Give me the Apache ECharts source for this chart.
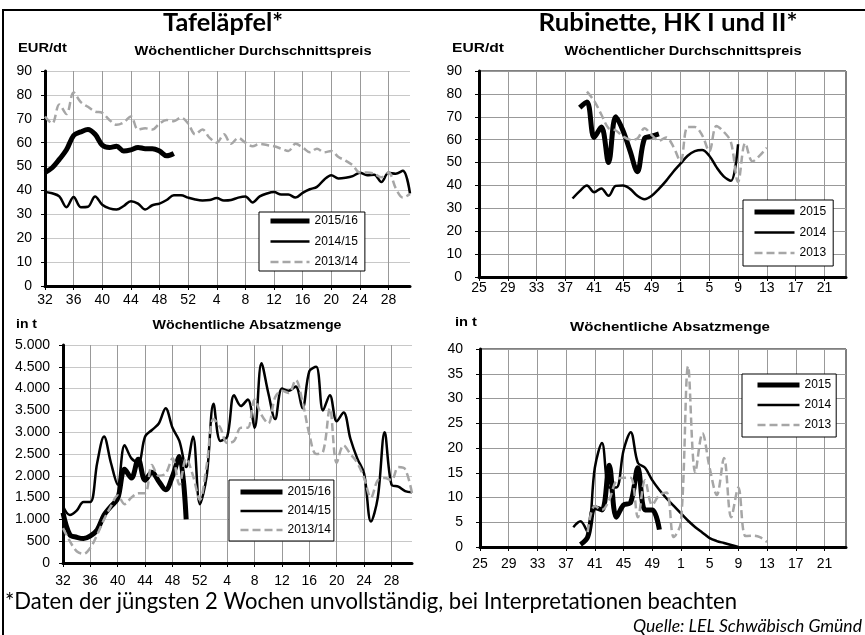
<!DOCTYPE html>
<html>
<head>
<meta charset="utf-8">
<script src="https://cdn.jsdelivr.net/npm/echarts@6/dist/echarts.min.js"></script>
<style>
  html, body { margin: 0; padding: 0; background: #fff; }
  #chart { width: 865px; height: 635px; }
</style>
</head>
<body>
<div id="chart"></div>
<script>
// Kalenderwochen
const weeksApfel = [32, 33, 34, 35, 36, 37, 38, 39, 40, 41, 42, 43, 44, 45, 46, 47, 48, 49, 50, 51, 52,
  1, 2, 3, 4, 5, 6, 7, 8, 9, 10, 11, 12, 13, 14, 15, 16, 17, 18, 19, 20, 21, 22, 23, 24, 25, 26, 27, 28, 29, 30, 31];
const weeksRubinette = [25, 26, 27, 28, 29, 30, 31, 32, 33, 34, 35, 36, 37, 38, 39, 40, 41, 42, 43, 44, 45, 46, 47, 48, 49, 50, 51, 52,
  1, 2, 3, 4, 5, 6, 7, 8, 9, 10, 11, 12, 13, 14, 15, 16, 17, 18, 19, 20, 21, 22, 23, 24];

// Tafeläpfel: Preis EUR/dt
const apfelPreis1516 = [47.5, 49.5, 53, 57, 63, 64.5, 65.5, 63.5, 59, 58, 58.5, 56.5, 57, 58, 57.5, 57.5, 56.5, 54.5, 55.5];
const apfelPreis1415 = [39.4, 38.8, 37.5, 33, 37.3, 33, 33.2, 37.5, 34, 32.5,
  32, 33.5, 35.5, 34.5, 32, 33.8, 34.5, 36, 38, 38,
  37, 36.2, 35.8, 36, 36.8, 35.8, 36, 37, 37.5, 35,
  37.5, 38.7, 39.3, 38.3, 38.3, 37, 39, 40.5, 41.5, 44.5,
  46.4, 45, 45.3, 46, 47.4, 46.4, 46.6, 43.5, 47.4, 47,
  48.2, 38.7];
const apfelPreis1314 = [71, 68, 76, 72, 81, 77, 75, 73, 72.5, 69.5,
  67.5, 68.5, 71, 65.5, 66, 65.5, 68, 69.5, 69, 70.5,
  68, 63.5, 65.5, 62, 60, 63.5, 59.5, 62, 60, 58.5,
  59.5, 59, 58.5, 57.5, 56.5, 59.5, 58, 56, 57.5, 56,
  56.5, 54, 52.5, 50.5, 47.5, 47.5, 47, 45.5, 47.5, 41,
  37, 38.5];

// Tafeläpfel: Absatz in t
const apfelMenge1516 = [1150, 650, 590, 560, 620, 760, 1100, 1300, 1480, 2150, 1950, 2380, 1900, 2080, 1870, 1680, 1990, 2440, 1000];
const apfelMenge1415 = [1300, 1100, 1200, 1400, 1400, 2300, 2900, 2300, 1800, 2700,
  2400, 2300, 2900, 3050, 3200, 3550, 3100, 2800, 2200, 2900,
  1350, 2000, 3650, 2800, 2900, 3850, 3600, 3750, 3100, 4580,
  3900, 3300, 4000, 3950, 4050, 3550, 4400, 4500, 3500, 3850,
  3250, 3450, 2850, 2400, 2050, 950, 1500, 3000, 1800, 1750,
  1650, 1620];
const apfelMenge1314 = [800, 500, 270, 210, 350, 650, 1000, 1300, 1550, 1350,
  1500, 1600, 1600, 2250, 2000, 2050, 2400, 1800, 2400, 2000,
  1450, 2250, 3300, 3100, 2750, 2800, 3100, 3100, 3750, 3400,
  3200, 3800, 3950, 3900, 4200, 3700, 2950, 2500, 2550, 3550,
  2300, 2700, 2500, 2300, 1950, 1500, 1900, 1950, 1900, 2200,
  2150, 1600];

// Rubinette: Preis EUR/dt
const rubPreis2015 = [null, null, null, null, null, null, null, null, null, null, null, null, null, null,
  74, 76.5, 61, 65.5, 50, 70, 64, 55, 46, 60.5, 61.5, 62.5];
const rubPreis2014 = [null, null, null, null, null, null, null, null, null, null, null, null, null,
  34.3, 37.5, 40, 37, 38.7, 35.5, 39.8, 40, 38.5, 35.5, 34, 35.5, 38.5, 42, 46,
  49.5, 53, 55, 55.5, 53, 48, 44, 42, 58];
const rubPreis2013 = [null, null, null, null, null, null, null, null, null, null, null, null, null, null, null,
  81, 77, 71, 65, 64, 61.5, 60, 60.5, 65, 62, 59.5, 61, 57,
  50.5, 65.5, 65.5, 62, 55, 66, 63.5, 59, 41.5, 58.5, 50.5, 53, 56.5];

// Rubinette: Absatz in t
const rubMenge2015 = [null, null, null, null, null, null, null, null, null, null, null, null, null, null,
  0.5, 2, 8, 7.5, 16.5, 6, 8.5, 9, 16, 7.5, 7.5, 3.5];
const rubMenge2014 = [null, null, null, null, null, null, null, null, null, null, null, null, null,
  4, 5.2, 3, 16, 21, 12, 12, 19.5, 23.2, 17, 16, 13.5, 11.5, 9.8, 8.3,
  6.8, 5.3, 4, 2.9, 1.8, 1.2, 0.8, 0.4, 0];
const rubMenge2013 = [null, null, null, null, null, null, null, null, null, null, null, null, null, null, null,
  3, 8.3, 7.5, 9.5, 13.5, 14, 14, 6, 13.5, 8.5, 10.5, 11, 2,
  5, 36.5, 15, 23, 16, 10.5, 18, 6, 12, 2.2, 2.3, 2, 1];

const FONT = "'Liberation Sans', Arial, sans-serif";
const chart = echarts.init(document.getElementById("chart"), null, { renderer: "canvas" });

// Breite eines Textes auf Vorlage trimmen
const measureCtx = document.createElement("canvas").getContext("2d");
function fitScale(text, font, width){
  measureCtx.font = font;
  return width / measureCtx.measureText(text).width;
}
function label(text, x, y, font, width, align){
  return {
    type: "text", x, y,
    scaleX: width ? fitScale(text, font, width) : 1,
    style: { text, font, fill: "#000", textAlign: align, textVerticalAlign: "middle", align, verticalAlign: "middle" }
  };
}

function dotThousands(v){
  return v >= 1000 ? Math.floor(v / 1000) + "." + String(v % 1000).padStart(3, "0") : String(v);
}

function catAxis(gridIndex, weeks, margin, gridColor){
  return {
    type: "category", gridIndex, data: weeks, boundaryGap: false,
    axisLine: { lineStyle: { color: "#000", width: 3 } },
    axisTick: { show: true, interval: 3, length: 4, lineStyle: { color: "#000", width: 1 } },
    axisLabel: { interval: 3, margin, color: "#000", fontSize: 14, fontFamily: FONT },
    splitLine: { show: true, interval: 3, lineStyle: { color: gridColor, width: 1 } }
  };
}
function valAxis(gridIndex, max, interval, margin, gridColor, fmt){
  return {
    type: "value", gridIndex, min: 0, max, interval,
    axisLine: { show: true, lineStyle: { color: "#000", width: 3 } },
    axisTick: { show: true, length: 4, lineStyle: { color: "#000", width: 1 } },
    axisLabel: { margin, color: "#000", fontSize: 14, fontFamily: FONT, formatter: fmt },
    splitLine: { lineStyle: { color: gridColor, width: 1 } }
  };
}

const styles = {
  thick: { color: "#000", width: 5 },
  thin: { color: "#000", width: 2.5 },
  dash: { color: "#a6a6a6", width: 2.5, type: [8, 4] }
};
function line(name, idx, data, kind){
  const st = styles[kind];
  return {
    name, type: "line", xAxisIndex: idx, yAxisIndex: idx, data,
    smooth: 0.35, symbol: "none", showSymbol: false, connectNulls: false,
    lineStyle: st, itemStyle: { color: st.color }
  };
}
function legendBox(left, top, names, padding, itemWidth, itemGap){
  return {
    left, top, orient: "vertical", data: names, selectedMode: false,
    itemWidth, itemHeight: 14, itemGap, padding,
    borderColor: "#000", borderWidth: 1, borderRadius: 0, backgroundColor: "#fff",
    textStyle: { fontSize: 12, color: "#000", fontFamily: FONT },
    lineStyle: { width: "inherit" }, itemStyle: { opacity: 0 }
  };
}

const leftNames = ["2015/16", "2014/15", "2013/14"];
const rightNames = ["2015", "2014", "2013"];

chart.setOption({
  animation: false,
  backgroundColor: "#fff",
  grid: [
    { left: 45, top: 71, width: 365, height: 215 },
    { left: 479, top: 71, width: 367, height: 206, show: true, borderColor: "#000", borderWidth: 1, backgroundColor: "transparent" },
    { left: 63, top: 345, width: 349, height: 218 },
    { left: 480, top: 349, width: 366, height: 198, show: true, borderColor: "#000", borderWidth: 1, backgroundColor: "transparent" }
  ],
  xAxis: [
    catAxis(0, weeksApfel, 7, "#999"),
    catAxis(1, weeksRubinette, 4, "#999"),
    catAxis(2, weeksApfel, 11, "#999"),
    catAxis(3, weeksRubinette, 10, "#999")
  ],
  yAxis: [
    valAxis(0, 90, 10, 13, "#c8c8c8"),
    valAxis(1, 90, 10, 17, "#999"),
    valAxis(2, 5000, 500, 13, "#c8c8c8", dotThousands),
    valAxis(3, 40, 5, 17, "#999")
  ],
  legend: [
    legendBox(259, 212, leftNames, [3, 7, 3, 9], 39, 8.5),
    legendBox(743, 200, rightNames, [6, 7, 7, 9], 40, 8.5),
    legendBox(229, 480, leftNames, [6, 3, 5, 9], 42, 7),
    legendBox(742, 374, rightNames, [5, 5, 6, 13], 42, 8)
  ],
  graphic: [
    { type: "rect", shape: { x: 3, y: 10, width: 900, height: 700 }, style: { fill: "none", stroke: "#000", lineWidth: 2 }, silent: true },
    label("Tafeläpfel*", 223, 23, "bold 25px Lato", 120, "center"),
    label("Rubinette, HK I und II*", 668, 23, "bold 25px Lato", 259, "center"),
    label("EUR/dt", 18, 49, "bold 12px " + FONT, 49, "left"),
    label("Wöchentlicher Durchschnittspreis", 253, 52, "bold 12px " + FONT, 237, "center"),
    label("EUR/dt", 452, 49, "bold 12px " + FONT, 52, "left"),
    label("Wöchentlicher Durchschnittspreis", 683, 52, "bold 12px " + FONT, 237, "center"),
    label("in t", 16, 325, "bold 12px " + FONT, 21, "left"),
    label("Wöchentliche Absatzmenge", 247, 326, "bold 12px " + FONT, 189, "center"),
    label("in t", 455, 323, "bold 12px " + FONT, 22, "left"),
    label("Wöchentliche Absatzmenge", 670, 328, "bold 12px " + FONT, 200, "center"),
    label("*Daten der jüngsten 2 Wochen unvollständig, bei Interpretationen beachten", 5, 602, "23px Lato", 732, "left"),
    label("Quelle: LEL Schwäbisch Gmünd", 862, 627, "italic 17px Lato", 229, "right")
  ],
  series: [
    line("2015/16", 0, apfelPreis1516, "thick"),
    line("2014/15", 0, apfelPreis1415, "thin"),
    line("2013/14", 0, apfelPreis1314, "dash"),
    line("2015", 1, rubPreis2015, "thick"),
    line("2014", 1, rubPreis2014, "thin"),
    line("2013", 1, rubPreis2013, "dash"),
    line("2015/16", 2, apfelMenge1516, "thick"),
    line("2014/15", 2, apfelMenge1415, "thin"),
    line("2013/14", 2, apfelMenge1314, "dash"),
    line("2015", 3, rubMenge2015, "thick"),
    line("2014", 3, rubMenge2014, "thin"),
    line("2013", 3, rubMenge2013, "dash")
  ]
});

window.addEventListener("resize", () => chart.resize());
</script>
</body>
</html>
